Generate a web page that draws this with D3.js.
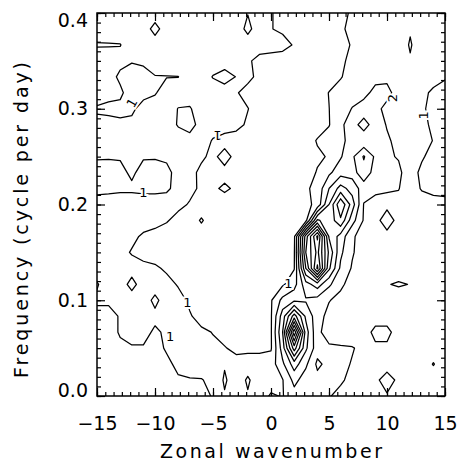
<!DOCTYPE html>
<html><head><meta charset="utf-8">
<script src="https://cdn.jsdelivr.net/npm/d3@7"></script>
<style>body{margin:0;background:#fff;}svg{display:block;}</style>
</head><body>
<svg id="chart" width="460" height="466"></svg>
<script>
// ---- data ----
const wavenumber = [-15,-14,-13,-12,-11,-10,-9,-8,-7,-6,-5,-4,-3,-2,-1,0,1,2,3,4,5,6,7,8,9,10,11,12,13,14,15];
// frequency rows, top (0.4 cpd) to bottom (0 cpd)
const frequency = [0.4000,0.3833,0.3667,0.3500,0.3333,0.3167,0.3000,0.2833,0.2667,0.2500,0.2333,0.2167,0.2000,0.1833,0.1667,0.1500,0.1333,0.1167,0.1000,0.0833,0.0667,0.0500,0.0333,0.0167,0.0000];
// normalised power, one row per frequency (same order as above), one column per wavenumber
const power = [
[1.3,1.3,1.3,1.3,1.3, 1.3,1.3,1.3,1.3,1.3, 1.3,1.3,1.3,1.02,1.3, 1.05, 0.75,0.7,0.7,0.7,0.7, 0.8,1.1,1.3,1.3,1.3, 1.3,1.4,1.3,1.3,1.3],
[1.3,1.3,1.3,1.3,1.3, 0.8,1.3,1.3,1.3,1.3, 1.3,1.3,1.3,0.85,1.3, 1.02, 0.9,0.7,0.7,0.7,0.7, 0.85,1.25,1.4,1.4,1.4, 1.4,1.9,1.4,1.4,1.4],
[0.95,0.96,0.98,1.3,1.3, 1.3,1.3,1.3,1.3,1.3, 1.3,1.3,1.3,1.3,1.3, 1.3, 1.2,0.95,0.7,0.7,0.7, 0.8,1.05,1.4,1.4,1.4, 1.4,2.1,1.4,1.4,1.4],
[1.3,1.3,1.2,1.05,1.1, 1.3,1.3,1.3,1.3,1.3, 1.3,1.3,1.3,1.1,0.8, 0.7, 0.7,0.7,0.7,0.7,0.7, 0.85,1.2,1.4,1.5,1.5, 1.4,1.9,1.4,1.3,1.3],
[1.3,1.3,0.85,0.7,0.8, 0.97,0.98,0.99,1.3,1.3, 0.97,0.75,1.02,1.15,0.85, 0.7, 0.7,0.7,0.7,0.7,0.7, 0.95,1.3,1.5,1.8,1.85, 1.5,1.4,1.3,1.3,1.05],
[1.2,1.2,1.15,0.6,0.75, 0.95,1.3,1.3,1.3,1.3, 1.3,1.3,1.05,0.8,0.7, 0.7, 0.7,0.7,0.7,0.7,1.02, 1.3,1.5,1.8,2.2,2.2, 1.7,1.4,1.2,0.85,0.8],
[0.95,0.85,0.8,0.85,1.3, 1.3,1.3,0.98,0.95,1.3, 1.3,1.3,1.3,1.02,0.7, 0.7, 0.7,0.7,0.7,0.7,0.99, 1.4,2.05,2.3,2.2,1.8, 1.5,1.4,1.1,0.8,0.8],
[1.1,1.2,1.15,1.2,1.3, 1.3,1.3,0.95,0.7,1.3, 1.3,1.3,1.2,0.9,0.7, 0.7, 0.7,0.7,0.7,0.7,0.95, 1.8,2.5,3.5,2.4,1.95, 1.6,1.4,1.2,0.85,0.8],
[1.3,1.3,1.3,1.3,1.3, 1.3,1.3,1.3,1.3,1.3, 0.95,0.75,0.7,0.7,0.7, 0.7, 0.7,0.7,0.7,1.05,1.4, 1.8,2.3,2.2,2.3,2.1, 1.8,1.5,1.3,0.97,0.8],
[1.05,1.05,1.05,1.05,1.05, 1.05,1.1,1.3,1.3,1.1, 0.85,1.25,0.8,0.7,0.7, 0.7, 0.7,0.7,0.7,0.9,1.05, 1.9,2.8,4.1,2.8,2.2, 1.9,1.5,1.05,0.85,0.8],
[0.8,0.75,0.85,1.1,0.8, 0.75,0.85,1.2,1.2,0.85, 0.75,0.8,0.7,0.7,0.7, 0.7, 0.7,0.7,0.7,1.05,1.8, 2.6,2.6,3.6,2.6,2.3, 2.3,1.2,0.9,0.8,0.8],
[0.8,0.85,0.9,0.9,0.85, 0.85,0.9,1.2,1.15,0.9, 0.9,1.1,0.9,0.7,0.7, 0.7, 0.7,0.7,0.85,1.3,3.0, 4.4,3.6,2.5,2.2,2.1, 2.05,1.3,0.95,0.85,0.9],
[1.3,1.3,1.3,1.3,1.3, 1.3,1.3,1.15,0.95,0.7, 0.7,0.7,0.7,0.7,0.7, 0.7, 0.7,0.7,0.7,1.3,4.0, 6.9,4.5,1.95,1.7,1.7, 1.6,1.5,1.3,1.2,1.1],
[1.3,1.3,1.3,1.3,1.3, 1.2,1.05,0.8,0.7,1.06, 0.7,0.7,0.7,0.7,0.7, 0.7, 0.7,0.7,0.7,5.2,4.3, 5.8,3.4,1.9,1.6,2.6, 1.6,1.5,1.5,1.4,1.4],
[1.3,1.3,1.3,1.15,0.9, 0.8,0.7,0.7,0.7,0.7, 0.7,0.7,0.7,0.7,0.7, 0.7, 0.7,0.8,6.5,10.2,4.9, 3.6,2.1,1.7,1.6,1.6, 1.5,1.5,1.5,1.5,1.5],
[1.3,1.3,1.2,0.95,0.75, 0.7,0.7,0.7,0.7,0.7, 0.7,0.7,0.7,0.7,0.7, 0.7, 0.7,0.9,7.0,9.3,5.8, 3.2,2.1,1.5,1.5,1.5, 1.5,1.5,1.5,1.5,1.5],
[1.3,1.3,1.3,1.25,1.2, 1.1,0.9,0.7,0.7,0.7, 0.7,0.7,0.7,0.7,0.7, 0.7, 0.7,0.95,6.0,10.2,5.2, 2.8,1.9,1.5,1.5,1.5, 1.5,1.5,1.5,1.5,1.5],
[0.95,1.3,1.3,0.8,1.3, 1.3,1.2,0.95,0.7,0.7, 0.7,0.7,0.7,0.7,0.7, 0.7, 0.85,1.6,3.6,4.5,3.2, 2.2,1.6,1.5,1.6,1.95, 2.1,1.97,1.6,1.5,1.5],
[1.1,1.1,1.3,1.3,1.3, 0.85,1.3,1.2,0.9,0.7, 0.7,0.7,0.7,0.7,0.7, 0.9, 2.3,2.8,2.9,2.6,2.05, 1.7,1.5,1.5,1.5,1.5, 1.5,1.5,1.5,1.5,1.5],
[0.8,0.8,1.05,1.2,1.2, 1.15,1.1,1.15,1.05,0.8, 0.7,0.7,0.7,0.7,0.7, 0.9, 3.5,6.5,3.8,2.4,1.7, 1.5,1.5,1.5,1.5,1.5, 1.5,1.5,1.5,1.5,1.5],
[0.8,0.8,1.05,1.2,1.2, 0.9,1.1,1.1,1.1,1.1, 0.98,0.7,0.7,0.7,0.7, 0.9, 4.0,10.8,4.5,2.2,1.6, 1.5,1.5,1.5,2.3,2.3, 1.5,1.5,1.5,1.5,1.5],
[0.75,0.75,0.9,0.95,0.95, 0.85,1.05,1.2,1.3,1.2, 1.1,1.05,0.8,0.75,0.8, 0.9, 3.5,7.5,4.2,2.4,2.15, 2.1,2.05,1.8,1.8,1.8, 1.5,1.5,1.5,1.5,1.5],
[0.7,0.7,0.7,0.7,0.7, 0.7,0.9,1.1,1.2,1.2, 1.3,1.9,1.3,1.5,1.4, 1.5, 2.8,4.5,3.2,1.8,2.3, 2.2,1.95,1.8,1.6,1.6, 1.5,1.5,1.5,2.05,1.5],
[0.7,0.7,0.7,0.7,0.7, 0.7,0.7,0.95,0.97,0.98, 1.1,2.15,1.4,2.15,1.4, 1.6, 1.95,3.3,2.5,2.3,2.2, 2.1,1.8,1.6,1.8,2.4, 1.8,1.5,1.5,1.5,1.5],
[0.7,0.7,0.7,0.7,0.7, 0.7,0.7,0.7,0.7,0.8, 1.05,1.9,1.4,1.9,1.6, 2.1, 1.95,2.6,2.3,2.2,2.05, 1.8,1.7,1.6,1.6,1.9, 1.6,1.5,1.5,1.5,1.5]
];
const levels = [1,2,3,4,5,6,7,8,9,10];
const xTicks = [-15,-10,-5,0,5,10,15];
const yTicks = [0.0,0.1,0.2,0.3,0.4];
// contour labels (wavenumber, frequency, text)
const labelK = [-12.0,-11.0,-7.2,-8.7,-4.6,13.1,1.5,10.5];
const labelF = [0.306,0.213,0.098,0.062,0.272,0.293,0.118,0.311];
const labelText = ["1","1","1","1","1","1","1","2"];

// ---- drawing ----
const svg = d3.select("#chart");
const L = 97, R = 445, T = 13, B = 396;
const x = d3.scaleLinear().domain([xTicks[0], xTicks[xTicks.length-1]]).range([L, R]);
const y = d3.scaleLinear().domain([yTicks[0], yTicks[yTicks.length-1]]).range([B, T]);
const nx = wavenumber.length, ny = frequency.length;
const gx = d3.scaleLinear().domain([0.5, nx - 0.5]).range([wavenumber[0], wavenumber[nx-1]]);
const gy = d3.scaleLinear().domain([0.5, ny - 0.5]).range([frequency[0], frequency[ny-1]]);
const font = "DejaVu Sans, Liberation Sans, sans-serif";

svg.append("rect").attr("width",460).attr("height",466).attr("fill","#fff");
svg.append("defs").append("clipPath").attr("id","plotclip")
  .append("rect").attr("x",L).attr("y",T).attr("width",R-L).attr("height",B-T);

const values = power.flat();
const cont = d3.contours().size([nx, ny]).thresholds(levels)(values);
const proj = d3.geoTransform({point(px, py){ this.stream.point(x(gx(px)), y(gy(py))); }});
const path = d3.geoPath(proj);
svg.append("g").attr("clip-path","url(#plotclip)")
  .selectAll("path").data(cont).join("path")
  .attr("d", path).attr("fill","none").attr("stroke","#000")
  .attr("stroke-width",1.25).attr("stroke-linejoin","round");

// contour labels
const labelAngles = [-60,0,0,0,180,-90,0,-90];
svg.append("g").selectAll("text").data(labelText).join("text")
  .attr("transform",(d,i)=>`translate(${x(labelK[i])},${y(labelF[i])}) rotate(${labelAngles[i]})`)
  .attr("text-anchor","middle").attr("dy","0.35em")
  .attr("font-family",font).attr("font-size",13)
  .attr("stroke","#fff").attr("stroke-width",4).attr("paint-order","stroke")
  .attr("fill","#000").text(d=>d);

const fmtX = d => d < 0 ? "\u2212" + Math.abs(d) : String(d);
function styleAxis(g){
  g.select(".domain").remove();
  g.selectAll(".tick line").attr("stroke","#000").attr("stroke-width",1.2);
  g.selectAll("text").attr("font-family",font).attr("font-size",19).attr("fill","#000");
}
const xMinor = d3.range(-15, 15.001, 5/7);
const yMinor = d3.range(0, 0.4001, 0.01);

// bottom
svg.append("g").attr("transform",`translate(0,${B})`)
  .call(d3.axisBottom(x).tickValues(xMinor).tickSize(-4).tickFormat(""))
  .call(styleAxis);
svg.append("g").attr("transform",`translate(0,${B})`)
  .call(d3.axisBottom(x).tickValues(xTicks).tickSize(-8).tickPadding(21).tickFormat(fmtX))
  .call(styleAxis);
// top
svg.append("g").attr("transform",`translate(0,${T})`)
  .call(d3.axisTop(x).tickValues(xMinor).tickSize(-4).tickFormat(""))
  .call(styleAxis);
svg.append("g").attr("transform",`translate(0,${T})`)
  .call(d3.axisTop(x).tickValues(xTicks).tickSize(-8).tickFormat(""))
  .call(styleAxis);
// left
svg.append("g").attr("transform",`translate(${L},0)`)
  .call(d3.axisLeft(y).tickValues(yMinor).tickSize(-4).tickFormat(""))
  .call(styleAxis);
svg.append("g").attr("transform",`translate(${L},0)`)
  .call(d3.axisLeft(y).tickValues(yTicks).tickSize(-8).tickPadding(9).tickFormat(d3.format(".1f")))
  .call(styleAxis)
  .call(g=>g.selectAll("text").attr("dy",d=> d===yTicks[yTicks.length-1] ? "0.7em" : (d===yTicks[0] ? "0.05em" : "0.32em")));
// right
svg.append("g").attr("transform",`translate(${R},0)`)
  .call(d3.axisRight(y).tickValues(yMinor).tickSize(-4).tickFormat(""))
  .call(styleAxis);
svg.append("g").attr("transform",`translate(${R},0)`)
  .call(d3.axisRight(y).tickValues(yTicks).tickSize(-8).tickFormat(""))
  .call(styleAxis);

// frame
svg.append("rect").attr("x",L).attr("y",T).attr("width",R-L).attr("height",B-T)
  .attr("fill","none").attr("stroke","#000").attr("stroke-width",1.5);

// titles
svg.append("text").attr("x",(L+R)/2).attr("y",458).attr("text-anchor","middle")
  .attr("font-family",font).attr("font-size",19).attr("textLength",222).attr("lengthAdjust","spacing")
  .text("Zonal wavenumber");
svg.append("text").attr("transform",`translate(28,220) rotate(-90)`).attr("text-anchor","middle")
  .attr("font-family",font).attr("font-size",19).attr("textLength",316).attr("lengthAdjust","spacing")
  .text("Frequency (cycle per day)");
</script>
</body></html>
